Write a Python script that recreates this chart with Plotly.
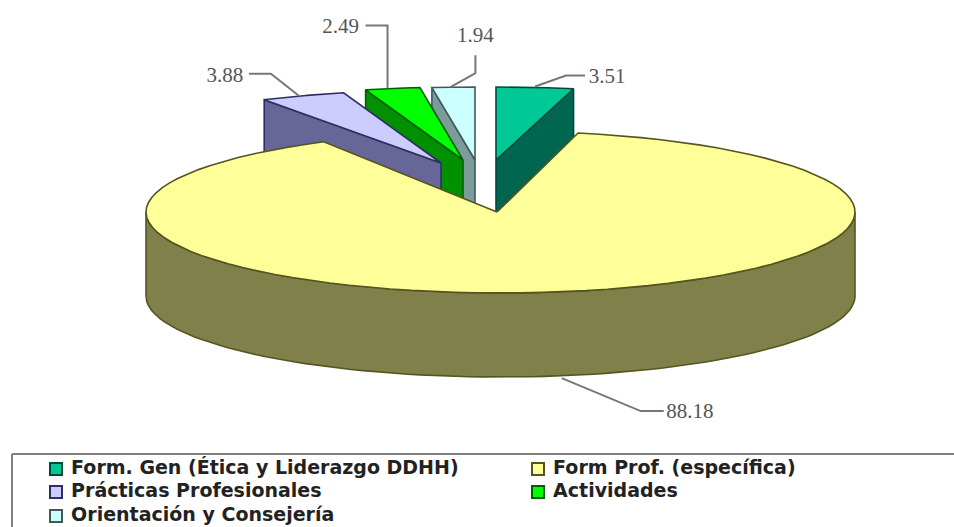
import numpy as np
import plotly.graph_objects as go

# Slice data, clockwise from twelve o'clock
categories = ["Form. Gen (Ética y Liderazgo DDHH)", "Form Prof. (específica)",
              "Prácticas Profesionales", "Actividades", "Orientación y Consejería"]
values = [3.51, 88.18, 3.88, 2.49, 1.94]
value_labels = ["3.51", "88.18", "3.88", "2.49", "1.94"]

top_colors = ["#00C896", "#FFFF99", "#CCCCFF", "#00FF00", "#CCFFFF"]
side_colors = ["#00664F", "#80804A", "#666699", "#009000", "#7C9C9C"]
edge_colors = ["#004A3A", "#55551F", "#2E2E66", "#006000", "#3F5A5A"]

# Pie geometry in page pixels
CX, CY = 497, 212
ARC_CX = 500.5
RX, RY = 354.5, 81
RY_PULLED = 73
DEPTH = 84
pull = [(-1, -52), (0, 0), (-56, -49), (-34, -52), (-22, -52)]

# Leader line bends and label centres, relative to the middle of each slice's outer arc
leader_bends = [
    [(0, -1), (31, -12), (50, -12)],
    [(8, 2), (87, 35), (110, 35)],
    [(-4, 0), (-32, -22), (-54, -22)],
    [(-5, 0), (-5, -63), (-27, -63)],
    [(-3, 0), (22, -14), (22, -32)],
]
label_offsets = [(72, -10), (136, 37), (-78, -19), (-52, -61), (22, -50)]

# Legend layout
legend_x = [56, 538, 56, 538, 56]
legend_y = [469, 469, 492, 492, 516]

fractions = np.array(values) / sum(values)
ends = np.cumsum(fractions) * 2 * np.pi
starts = ends - fractions * 2 * np.pi


def arc(a0, a1, ax, ay, ry):
    t = np.linspace(a0, a1, 90)
    return ax + RX * np.sin(t), ay - ry * np.cos(t)


def poly(fig, x, y, fill, edge, width=1.6):
    fig.add_trace(go.Scatter(
        x=np.r_[x, x[0]], y=np.r_[y, y[0]], mode="lines", fill="toself",
        fillcolor=fill, line=dict(color=edge, width=width),
        hoverinfo="skip", showlegend=False))


fig = go.Figure()

# Pulled slices, back to front, with the large slice painted over their lower parts
for i in [4, 3, 2, 0]:
    ax, ay = CX + pull[i][0], CY + pull[i][1]
    # Cut face turned towards the viewer
    a = ends[i] if i == 0 else starts[i]
    ex, ey = ax + RX * np.sin(a), ay - RY_PULLED * np.cos(a)
    poly(fig, np.array([ax, ex, ex, ax]), np.array([ay, ey, ey + DEPTH, ay + DEPTH]),
         side_colors[i], edge_colors[i])
    x, y = arc(starts[i], ends[i], ax, ay, RY_PULLED)
    poly(fig, np.r_[ax, x], np.r_[ay, y], top_colors[i], edge_colors[i])

# Large slice: rim first, then its top face
x, y = arc(np.pi / 2, 3 * np.pi / 2, ARC_CX, CY, RY)
poly(fig, np.r_[x, x[::-1]], np.r_[y, y[::-1] + DEPTH], side_colors[1], edge_colors[1])
x, y = arc(starts[1], ends[1], ARC_CX, CY, RY)
poly(fig, np.r_[CX, x], np.r_[CY, y], top_colors[1], edge_colors[1])

# Leader lines and value labels
for i, text in enumerate(value_labels):
    mid = (starts[i] + ends[i]) / 2
    big = i == 1
    ax = ARC_CX if big else CX + pull[i][0]
    ay = CY + pull[i][1]
    mx = ax + RX * np.sin(mid)
    my = ay - (RY if big else RY_PULLED) * np.cos(mid) + (DEPTH if big else 0)
    fig.add_trace(go.Scatter(
        x=[mx + p[0] for p in leader_bends[i]], y=[my + p[1] for p in leader_bends[i]],
        mode="lines", line=dict(color="#777777", width=2),
        hoverinfo="skip", showlegend=False))
    fig.add_trace(go.Scatter(
        x=[mx + label_offsets[i][0]], y=[my + label_offsets[i][1]], mode="text",
        text=[text], textposition="middle center",
        textfont=dict(family="Liberation Serif", size=21, color="#555555"),
        hoverinfo="skip", showlegend=False))

# Legend swatches and entries
for i, name in enumerate(categories):
    fig.add_trace(go.Scatter(
        x=[legend_x[i]], y=[legend_y[i]], mode="markers+text",
        marker=dict(symbol="square", size=12, color=top_colors[i],
                    line=dict(color=edge_colors[i], width=2)),
        text=[" " + name], textposition="middle right",
        textfont=dict(family="DejaVu Sans", size=19, color="#222222", weight="bold"),
        hoverinfo="skip", showlegend=False))

# Legend frame, open at the right and bottom page edges
frame = dict(color="#808080", width=2)
fig.add_shape(type="line", x0=12, x1=954, y0=454, y1=454, line=frame)
fig.add_shape(type="line", x0=12, x1=12, y0=454, y1=527, line=frame)

fig.update_layout(
    width=954, height=527, margin=dict(l=0, r=0, t=0, b=0),
    plot_bgcolor="white", paper_bgcolor="white", showlegend=False,
    xaxis=dict(range=[0, 954], visible=False, fixedrange=True),
    yaxis=dict(range=[527, 0], visible=False, fixedrange=True),
)
fig.write_html("out.html", config=dict(displayModeBar=False))
